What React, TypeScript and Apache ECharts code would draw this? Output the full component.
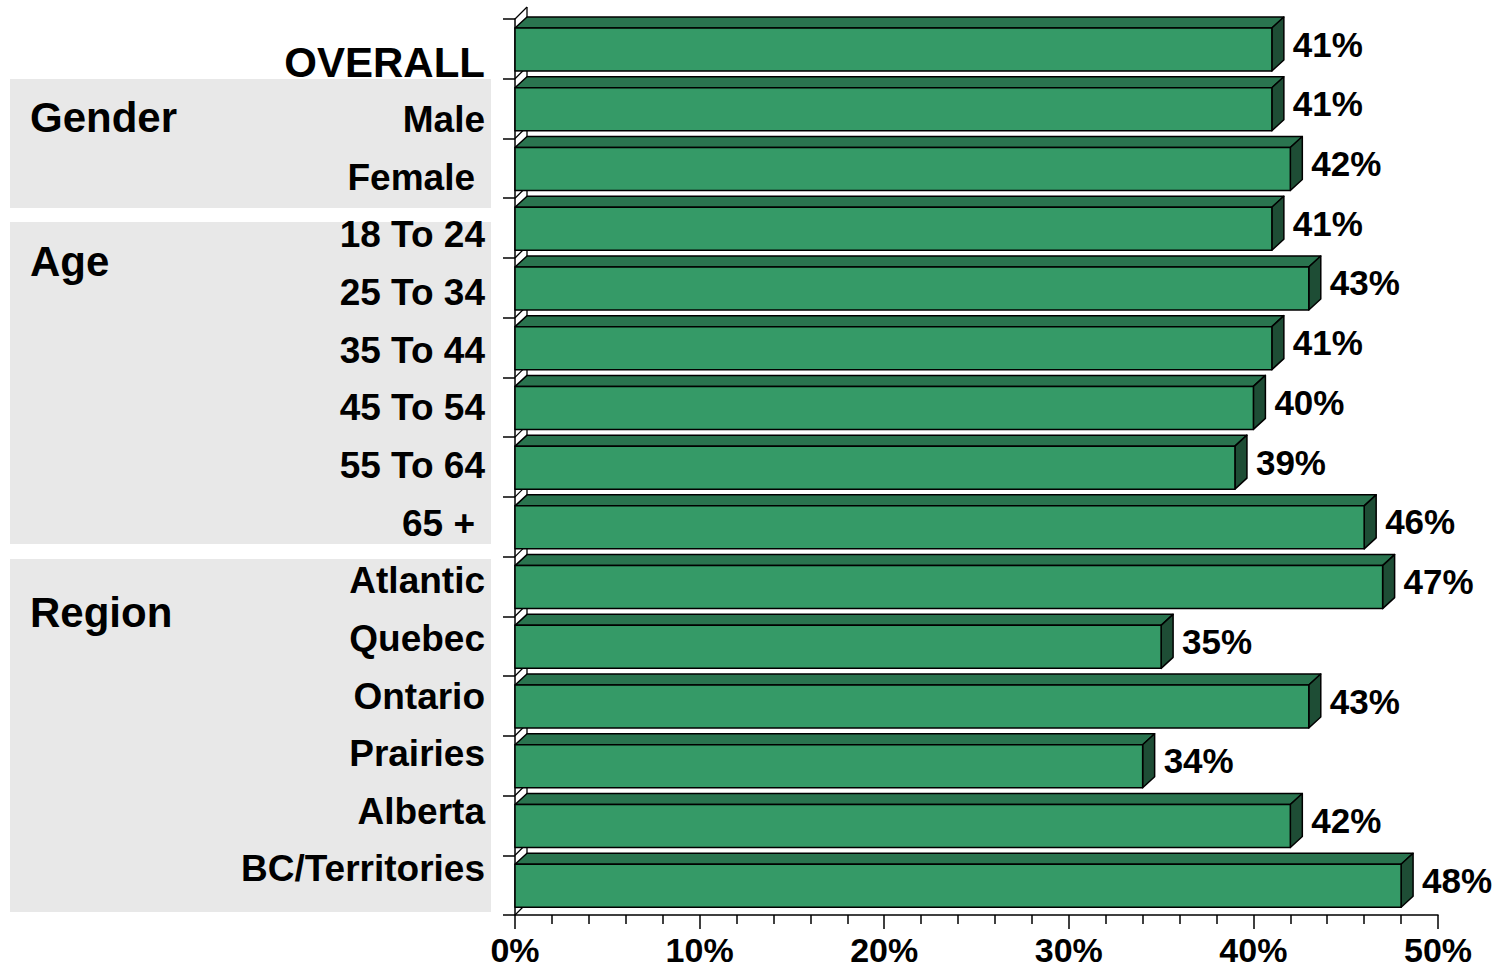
import React, { useEffect, useRef } from "react";
import * as echarts from "echarts";

const categories = ["OVERALL", "Male", "Female", "18 To 24", "25 To 34", "35 To 44", "45 To 54", "55 To 64", "65 +", "Atlantic", "Quebec", "Ontario", "Prairies", "Alberta", "BC/Territories"];
const values = [41, 41, 42, 41, 43, 41, 40, 39, 46, 47, 35, 43, 34, 42, 48];
const axisMin = 0;
const axisMax = 50;
const axisInterval = 10;
const groups = ["Gender", "Age", "Region"];
const groupBoxes = [
  { y: 79, h: 129, ty: 117 },
  { y: 222, h: 322, ty: 261 },
  { y: 559, h: 353, ty: 612 },
];

const FONT = "'Liberation Sans', Arial, sans-serif";
const DEPTH_X = 12;
const DEPTH_Y = 11;

export default function App() {
  const ref = useRef<HTMLDivElement>(null);
  useEffect(() => {
    document.body.style.margin = "0";
    const chart = echarts.init(ref.current!, null, { renderer: "svg" });
    const n = categories.length;

    const wallRender = (params: any, api: any) => {
      const idx = api.value(1);
      const c = api.coord([0, idx]);
      const h = api.size([0, 1])[1];
      const x0 = c[0];
      const yTop = c[1] - h / 2;
      const yBot = c[1] + h / 2;
      const ls = { stroke: "#000", lineWidth: 1.3 };
      const children: any[] = [
        { type: "line", shape: { x1: x0, y1: yTop, x2: x0 + DEPTH_X, y2: yTop - DEPTH_X }, style: ls },
        { type: "line", shape: { x1: x0 + DEPTH_X, y1: yTop - DEPTH_X, x2: x0 + DEPTH_X, y2: yBot - DEPTH_X }, style: ls },
      ];
      if (idx === n - 1) {
        children.push({ type: "line", shape: { x1: x0, y1: yBot, x2: x0 + DEPTH_X, y2: yBot - DEPTH_X }, style: ls });
      }
      return { type: "group", children };
    };

    const barRender = (params: any, api: any) => {
      const v = api.value(0);
      const idx = api.value(1);
      const c0 = api.coord([0, idx]);
      const c1 = api.coord([v, idx]);
      const h = api.size([0, 1])[1];
      const x0 = c0[0];
      const x1 = c1[0];
      const yTop = c0[1] - h / 2;
      const top = yTop + 9;
      const bot = yTop + 52;
      const stroke = { stroke: "#000", lineWidth: 1.5, lineJoin: "round" };
      return {
        type: "group",
        children: [
          {
            type: "polygon",
            shape: { points: [[x0, top], [x0 + DEPTH_X, top - DEPTH_Y], [x1 + DEPTH_X, top - DEPTH_Y], [x1, top]] },
            style: { fill: "#2A744F", ...stroke },
          },
          {
            type: "polygon",
            shape: { points: [[x1, top], [x1 + DEPTH_X, top - DEPTH_Y], [x1 + DEPTH_X, bot - DEPTH_Y], [x1, bot]] },
            style: { fill: "#1E4D35", ...stroke },
          },
          {
            type: "rect",
            shape: { x: x0, y: top, width: x1 - x0, height: bot - top },
            style: { fill: "#359A67", ...stroke },
          },
          {
            type: "text",
            style: {
              text: v + "%",
              x: x1 + DEPTH_X + 9,
              y: (top - DEPTH_Y + bot) / 2,
              verticalAlign: "middle",
              align: "left",
              font: `bold 35px ${FONT}`,
              fill: "#000",
            },
          },
        ],
      };
    };

    const graphics: any[] = [];
    groups.forEach((g, i) => {
      const b = groupBoxes[i];
      graphics.push({
        type: "rect",
        z: -10,
        shape: { x: 10, y: b.y, width: 481, height: b.h },
        style: { fill: "#E8E8E8" },
      });
      graphics.push({
        type: "text",
        z: 10,
        style: { text: g, x: 30, y: b.ty, verticalAlign: "middle", font: `bold 42px ${FONT}`, fill: "#000" },
      });
    });

    chart.setOption({
      animation: false,
      backgroundColor: "#fff",
      graphic: graphics,
      grid: [
        { left: 515, right: 59, top: 19, bottom: 54, containLabel: false },
        { left: 515, right: 59, top: 33.2, bottom: 71.2, containLabel: false },
      ],
      xAxis: [
        {
          type: "value",
          gridIndex: 0,
          min: axisMin,
          max: axisMax,
          interval: axisInterval,
          axisLine: { show: true, lineStyle: { color: "#000", width: 1.5 } },
          axisTick: { show: true, length: 14, lineStyle: { color: "#000", width: 1.5 } },
          minorTick: { show: true, splitNumber: 5, length: 9, lineStyle: { color: "#000", width: 1.5 } },
          splitLine: { show: false },
          axisLabel: {
            formatter: "{value}%",
            margin: 19,
            color: "#000",
            fontFamily: FONT,
            fontWeight: "bold",
            fontSize: 34,
            lineHeight: 32,
          },
        },
        { type: "value", gridIndex: 1, min: axisMin, max: axisMax, show: false },
      ],
      yAxis: [
        {
          type: "category",
          gridIndex: 0,
          data: categories,
          inverse: true,
          axisLine: { show: true, lineStyle: { color: "#000", width: 1.5 } },
          axisTick: { show: true, length: 12, lineStyle: { color: "#000", width: 1.5 } },
          axisLabel: { show: false },
          splitLine: { show: false },
        },
        {
          type: "category",
          gridIndex: 1,
          data: categories,
          inverse: true,
          axisLine: { show: false },
          axisTick: { show: false },
          splitLine: { show: false },
          axisLabel: {
            margin: 30,
            color: "#000",
            formatter: (v: string) => {
              if (v === "OVERALL") return `{big|${v}}`;
              if (v === "Female" || v === "65 +") return `{pad|${v}}`;
              return `{n|${v}}`;
            },
            rich: {
              big: { fontFamily: FONT, fontWeight: "bold", fontSize: 42, color: "#000" },
              pad: { fontFamily: FONT, fontWeight: "bold", fontSize: 37, color: "#000", padding: [0, 10, 0, 0] },
              n: { fontFamily: FONT, fontWeight: "bold", fontSize: 37, color: "#000" },
            },
          },
        },
      ],
      series: [
        {
          type: "custom",
          xAxisIndex: 0,
          yAxisIndex: 0,
          clip: false,
          z: 1,
          renderItem: wallRender,
          encode: { x: 0, y: 1 },
          data: categories.map((_, i) => [0, i]),
        },
        {
          type: "custom",
          xAxisIndex: 0,
          yAxisIndex: 0,
          clip: false,
          z: 2,
          renderItem: barRender,
          encode: { x: 0, y: 1 },
          data: values.map((v, i) => [v, i]),
        },
      ],
    });
    return () => chart.dispose();
  }, []);
  return <div ref={ref} style={{ width: 1497, height: 969 }} />;
}
